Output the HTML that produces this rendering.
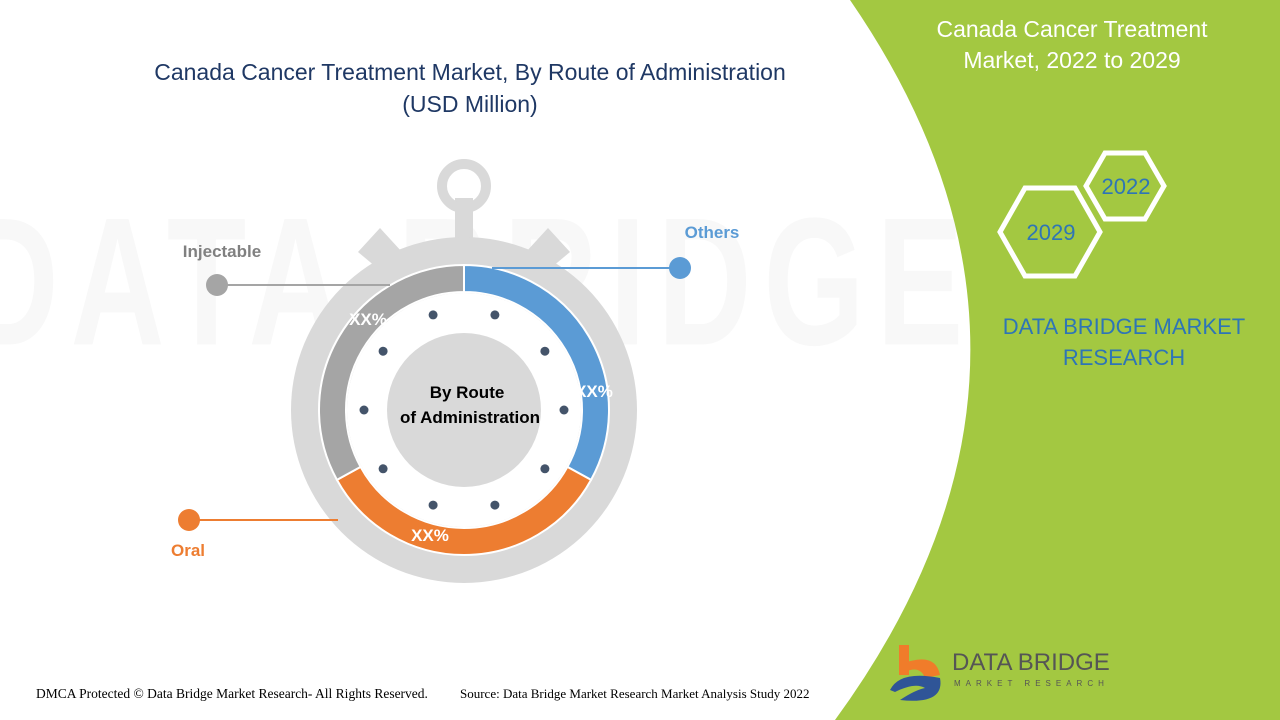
<!DOCTYPE html>
<html><head><meta charset="utf-8"><style>
body{margin:0;width:1280px;height:720px;overflow:hidden;background:#fff;font-family:"Liberation Sans",sans-serif}
#c{position:absolute;left:0;top:0}
</style></head><body>
<svg id="c" width="1280" height="720">
<text x="470" y="246" font-size="130" fill="#f8f8f8" text-anchor="middle" font-weight="bold" transform="scale(1,1.4)" style="letter-spacing:12px">DATA BRIDGE</text>
<path d="M850,0 L1280,0 L1280,720 L835,720 Q1098,360 850,0 Z" fill="#a3c841"/>
<text font-size="23" fill="#1f3864" text-anchor="middle"><tspan x="470" y="80">Canada Cancer Treatment Market, By Route of Administration</tspan><tspan x="470" y="112">(USD Million)</tspan></text>
<g id="watch"></g>
<text font-size="23" fill="#fff" text-anchor="middle"><tspan x="1072" y="37">Canada Cancer Treatment</tspan><tspan x="1072" y="68">Market, 2022 to 2029</tspan></text>
<polygon points="1086,186 1105,153 1145,153 1164,186 1145,219 1105,219" fill="none" stroke="#fff" stroke-width="5"/>
<text x="1126" y="194" font-size="22" fill="#2e75b6" text-anchor="middle">2022</text>
<polygon points="1000,232 1025,188 1075,188 1100,232 1075,276 1025,276" fill="none" stroke="#fff" stroke-width="5"/>
<text x="1051" y="240" font-size="22" fill="#2e75b6" text-anchor="middle">2029</text>
<text font-size="22" fill="#2e75b6" text-anchor="middle"><tspan x="1124" y="334">DATA BRIDGE MARKET</tspan><tspan x="1124" y="365">RESEARCH</tspan></text>
<g>
<rect x="899" y="645" width="10" height="30" fill="#f07c2a"/>
<path d="M899,665 Q935,650 940,675 L925,678 Q920,665 905,672 Z" fill="#f07c2a"/>
<path d="M890,690 Q900,670 940,678 Q945,705 900,700 Q915,690 925,688 Q915,682 895,692 Z" fill="#2f5597"/>
<text x="952" y="670" font-size="24" fill="#555">DATA BRIDGE</text>
<text x="954" y="686" font-size="8" fill="#555" style="letter-spacing:5px">MARKET RESEARCH</text>
</g>
<text x="36" y="698" font-size="13.5" fill="#000" font-family="Liberation Serif">DMCA Protected © Data Bridge Market Research- All Rights Reserved.</text>
<text x="460" y="698" font-size="13" fill="#000" font-family="Liberation Serif">Source: Data Bridge Market Research Market Analysis Study 2022</text>
</svg>
<script>
const categories=["Others","Oral","Injectable"];
const values=[33,34,33];
const labels=["XX%","XX%","XX%"];
const colors=["#5b9bd5","#ed7d31","#a5a5a5"];
const NS="http://www.w3.org/2000/svg";
const g=document.getElementById('watch');
const cx=464,cy=410;
function mk(t,a){const e=document.createElementNS(NS,t);for(const k in a)e.setAttribute(k,a[k]);g.appendChild(e);return e;}
function pt(r,a){const t=a*Math.PI/180;return [cx+r*Math.sin(t),cy-r*Math.cos(t)];}
let b1=mk('polygon',{points:"358,252 380,228 402,252 382,272",fill:"#d9d9d9"});

let b2=mk('polygon',{points:"570,252 548,228 526,252 546,272",fill:"#d9d9d9"});

let st=mk('rect',{x:455,y:198,width:18,height:50,fill:"#d9d9d9"});

let kn=mk('circle',{cx:464,cy:186,r:22,fill:"none",stroke:"#d9d9d9","stroke-width":10});

let od=mk('circle',{cx:cx,cy:cy,r:173,fill:"#d9d9d9"});

const total=values.reduce((a,b)=>a+b,0);
const R1=145,R0=118;let a0=0;
values.forEach((v,i)=>{
 const a1=a0+v/total*360;
 const p1=pt(R1,a0),p2=pt(R1,a1),p3=pt(R0,a1),p4=pt(R0,a0);const lg=(a1-a0)>180?1:0;
 const p=mk('path',{d:`M${p1}A${R1},${R1} 0 ${lg} 1 ${p2}L${p3}A${R0},${R0} 0 ${lg} 0 ${p4}Z`,fill:colors[i],stroke:"#fff","stroke-width":2});
 
 
 a0=a1;
});
let inn=mk('circle',{cx:cx,cy:cy,r:117,fill:"#fff"});

for(let k=0;k<10;k++){const q=pt(100,18+k*36);const d=mk('circle',{cx:q[0],cy:q[1],r:4.5,fill:"#44546a"});
}
let cc=mk('circle',{cx:cx,cy:cy,r:77,fill:"#d9d9d9"});

let ct=mk('text',{x:cx,y:398,"font-size":17,"font-weight":"bold","text-anchor":"middle",fill:"#000"});
ct.innerHTML='<tspan x="467" y="398">By Route</tspan><tspan x="470" y="423">of Administration</tspan>';

const lpos=[[594,397],[430,541],[368,325]];
labels.forEach((l,i)=>{const t=mk('text',{x:lpos[i][0],y:lpos[i][1],"font-size":17,"font-weight":"bold",fill:"#fff","text-anchor":"middle"});t.textContent=l;
});
const leaders=[[[492,268],[680,268],[712,238]],[[338,520],[189,520],[188,556]],[[390,285],[217,285],[222,257]]];
leaders.forEach((L,i)=>{
 const ln=mk('line',{x1:L[0][0],y1:L[0][1],x2:L[1][0],y2:L[1][1],stroke:colors[i],"stroke-width":2});
 
 const c=mk('circle',{cx:L[1][0],cy:L[1][1],r:11,fill:colors[i]});
 
 const t=mk('text',{x:L[2][0],y:L[2][1],"font-size":17,"font-weight":"bold",fill:i==2?"#808080":colors[i],"text-anchor":"middle"});
 t.textContent=categories[i];
 
});
</script>
</body></html>
